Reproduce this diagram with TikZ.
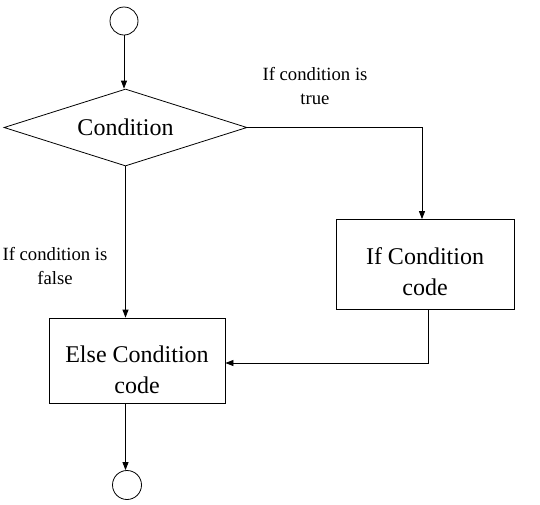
\documentclass[tikz,border=0pt]{standalone}
\usepackage{fontspec}
\setmainfont{Liberation Serif}
\newfontfamily\timesfont{Liberation Serif}
\usetikzlibrary{shapes.geometric,arrows.meta}
\begin{document}
\begin{tikzpicture}[x=1pt,y=-1pt,
  every path/.style={line width=0.8pt},
  bigtext/.style={font=\timesfont\fontsize{24}{31}\selectfont, align=center},
  smalltext/.style={font=\timesfont\fontsize{18.7}{24.5}\selectfont, align=center, inner sep=0pt},
  terminal/.style={circle, draw, minimum size=28pt, inner sep=0pt},
  procbox/.style={rectangle, draw, inner sep=0pt},
  decision/.style={diamond, draw, bigtext, inner sep=0pt, aspect=3.16},
  conn/.style={-{Triangle[length=8pt,width=6pt]}}
]
\useasboundingbox (0,0) rectangle (540,504);
\node[terminal] (start) at (124,21) {};
\node[decision, minimum width=243pt, minimum height=77pt] (cond) at (125.5,127.5) {Condition};
\node[procbox, minimum width=178pt, minimum height=90pt] (ifc) at (425,264.5) {};
\node[bigtext] (ifct) at (425,272) {If Condition\\code};
\node[procbox, minimum width=176pt, minimum height=85pt] (els) at (137,360.5) {};
\node[bigtext] (elst) at (137,370) {Else Condition\\code};
\node[terminal, minimum size=29pt] (stop) at (127,485) {};
\node[smalltext] (lt) at (315,86) {If condition is\\true};
\node[smalltext] (lf) at (55,266) {If condition is\\false};

\draw[conn] (start.south) -- (start.south |- cond.north);
\draw[conn] (cond.east) -| ([xshift=-3pt]ifc.north);
\draw[conn] (cond.south) -- (cond.south |- els.north);
\draw[conn] ([xshift=3pt]ifc.south) |- ([yshift=-2.5pt]els.east);
\draw[conn] (cond.south |- els.south) -- (cond.south |- stop.north);
\end{tikzpicture}
\end{document}
